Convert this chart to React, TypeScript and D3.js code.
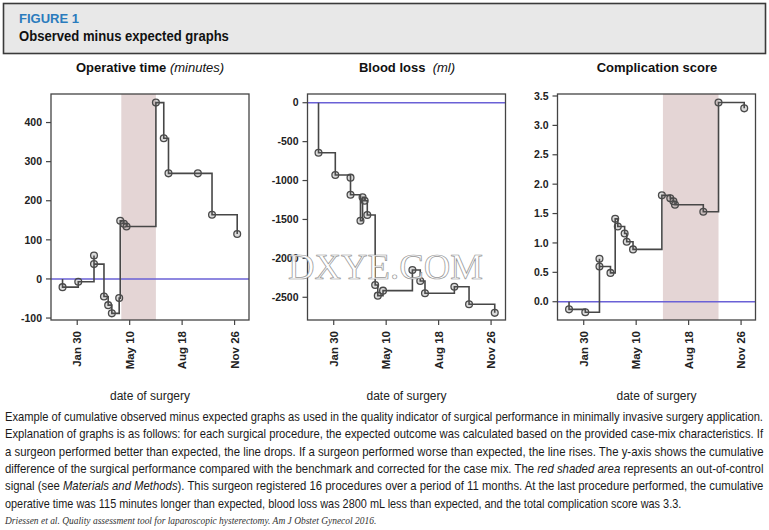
import React, { useLayoutEffect, useRef, useState } from "react";
import * as d3 from "d3";

// observed minus expected, one value per procedure
const opDates = ["2015-01-02", "2015-02-01", "2015-03-03", "2015-03-03", "2015-03-22", "2015-03-30", "2015-04-06", "2015-04-20", "2015-04-22", "2015-04-29", "2015-05-04", "2015-06-29", "2015-07-14", "2015-07-23", "2015-09-17", "2015-10-14", "2015-12-01"];
const opValues = [-21, -7, 60, 38, -45, -67, -88, -49, 149, 141, 134, 451, 360, 270, 270, 164, 115];

const bloodDates = ["2015-01-01", "2015-02-02", "2015-03-03", "2015-03-03", "2015-03-22", "2015-03-26", "2015-03-30", "2015-04-04", "2015-04-19", "2015-04-24", "2015-05-04", "2015-06-29", "2015-07-14", "2015-07-23", "2015-09-17", "2015-10-15", "2015-12-03"];
const bloodValues = [-642, -929, -963, -1182, -1516, -1216, -1259, -1443, -2342, -2479, -2415, -2149, -2291, -2449, -2364, -2590, -2700];

const complDates = ["2015-01-02", "2015-02-02", "2015-03-01", "2015-03-01", "2015-03-22", "2015-03-31", "2015-04-05", "2015-04-18", "2015-04-22", "2015-05-04", "2015-06-28", "2015-07-14", "2015-07-20", "2015-07-23", "2015-09-15", "2015-10-14", "2015-12-02"];
const complValues = [-0.13, -0.18, 0.73, 0.6, 0.49, 1.41, 1.28, 1.16, 1.02, 0.89, 1.81, 1.76, 1.71, 1.65, 1.53, 3.39, 3.29];

// out-of-control periods
const opShade = ["2015-04-24", "2015-06-29"];
const complShade = ["2015-06-30", "2015-10-14"];

const dateTicks = ["2015-01-30", "2015-05-10", "2015-08-18", "2015-11-26"];
const dateTickLabels = ["Jan 30", "May 10", "Aug 18", "Nov 26"];
const opTicks = [-100, 0, 100, 200, 300, 400];
const bloodTicks = [0, -500, -1000, -1500, -2000, -2500];
const complTicks = [0, 0.5, 1, 1.5, 2, 2.5, 3, 3.5];

const captionLines: [string, boolean][][] = [
  [["Example of cumulative observed minus expected graphs as used in the quality indicator of surgical performance in minimally invasive surgery application.", false]],
  [["Explanation of graphs is as follows: for each surgical procedure, the expected outcome was calculated based on the provided case-mix characteristics. If", false]],
  [["a surgeon performed better than expected, the line drops. If a surgeon performed worse than expected, the line rises. The y-axis shows the cumulative", false]],
  [["difference of the surgical performance compared with the benchmark and corrected for the case mix. The ", false], ["red shaded area", true], [" represents an out-of-control", false]],
  [["signal (see ", false], ["Materials and Methods", true], ["). This surgeon registered 16 procedures over a period of 11 months. At the last procedure performed, the cumulative", false]],
  [["operative time was 115 minutes longer than expected, blood loss was 2800 mL less than expected, and the total complication score was 3.3.", false]],
];

const parse = d3.utcParse("%Y-%m-%d");
const TOP = 94;
const BOTTOM = 320;
const W = 198;
const SANS = "'Liberation Sans', Arial, Helvetica, sans-serif";
const NARROW = "'Liberation Sans Narrow', 'Arial Narrow', 'Liberation Sans', Arial, sans-serif";

// text squeezed horizontally to a given width (the original uses a condensed face)
const FitText = ({ x, y, width, children, ...rest }: any) => {
  const ref = useRef<SVGTextElement>(null);
  const [k, setK] = useState(1);
  useLayoutEffect(() => {
    if (ref.current) {
      const w = ref.current.getComputedTextLength();
      if (w > 0) setK(width / w);
    }
  }, [width]);
  return (
    <text ref={ref} transform={`translate(${x},${y}) scale(${k},1)`} {...rest}>
      {children}
    </text>
  );
};

type PanelProps = {
  left: number;
  dates: string[];
  values: number[];
  yDomain: [number, number];
  yTicks: number[];
  yFormat: (v: number) => string;
  shade?: string[];
};

const Panel = ({ left, dates, values, yDomain, yTicks, yFormat, shade }: PanelProps) => {
  const x = d3
    .scaleUtc()
    .domain([new Date(Date.UTC(2014, 11, 11)), new Date(Date.UTC(2015, 11, 23, 12))])
    .range([left, left + W]);
  const y = d3.scaleLinear().domain(yDomain).range([BOTTOM, TOP]);

  const pts: [Date, number][] = dates.map((d, i) => [parse(d)!, values[i]]);
  const path = d3
    .line<[Date, number]>()
    .x((d) => x(d[0]))
    .y((d) => y(d[1]))
    .curve(d3.curveStepAfter)([[pts[0][0], 0], ...pts]);

  return (
    <g>
      {shade && (
        <rect
          x={x(parse(shade[0])!)}
          y={TOP}
          width={x(parse(shade[1])!) - x(parse(shade[0])!)}
          height={BOTTOM - TOP}
          fill="#e4d5d5"
        />
      )}
      <line x1={left} x2={left + W} y1={y(0)} y2={y(0)} stroke="#6a61d6" strokeWidth={1.5} />
      <path d={path ?? ""} fill="none" stroke="#474747" strokeWidth={1.6} />
      {pts.map((p, i) => (
        <circle key={i} cx={x(p[0])} cy={y(p[1])} r={3.4} fill="rgba(90,90,90,0.22)" stroke="#4a4a4a" strokeWidth={1.3} />
      ))}
      <rect x={left} y={TOP} width={W} height={BOTTOM - TOP} fill="none" stroke="#444" strokeWidth={1.3} />
      {yTicks.map((t) => (
        <g key={t}>
          <line x1={left - 5} x2={left} y1={y(t)} y2={y(t)} stroke="#444" strokeWidth={1.2} />
          <text
            x={left - 9}
            y={y(t)}
            dy="0.35em"
            textAnchor="end"
            fontFamily={SANS}
            fontSize={10.5}
            fontWeight="bold"
            fill="#222"
          >
            {yFormat(t)}
          </text>
        </g>
      ))}
      {dateTicks.map((t, i) => {
        const tx = x(parse(t)!);
        return (
          <g key={t}>
            <line x1={tx} x2={tx} y1={BOTTOM} y2={BOTTOM + 5} stroke="#444" strokeWidth={1.2} />
            <text
              transform={`translate(${tx},${BOTTOM + 11}) rotate(-90)`}
              dy="0.35em"
              textAnchor="end"
              fontFamily={SANS}
              fontSize={11.5}
              fontWeight="bold"
              fill="#222"
            >
              {dateTickLabels[i]}
            </text>
          </g>
        );
      })}
      <text x={left + W / 2} y={400} textAnchor="middle" fontFamily={SANS} fontSize={12} fill="#222">
        date of surgery
      </text>
    </g>
  );
};

const App = () => {
  return (
    <svg
      width={769}
      height={530}
      style={{ position: "fixed", left: 0, top: 0, background: "#fff" }}
    >
      <rect x={3.5} y={3.5} width={762} height={50} fill="#e8e8e8" stroke="#3a3a3a" strokeWidth={1.6} />
      <FitText x={19} y={23} width={60} fontFamily={NARROW} fontWeight="bold" fontSize={13.5} fill="#2a7bbd">
        FIGURE 1
      </FitText>
      <FitText x={19} y={41} width={210} fontFamily={NARROW} fontWeight="bold" fontSize={15} fill="#111">
        Observed minus expected graphs
      </FitText>

      <text x={150} y={72} textAnchor="middle" fontFamily={SANS} fontSize={13} fill="#111">
        <tspan fontWeight="bold">Operative time </tspan>
        <tspan fontStyle="italic">(minutes)</tspan>
      </text>
      <text x={407} y={72} textAnchor="middle" fontFamily={SANS} fontSize={13} fill="#111" xmlSpace="preserve">
        <tspan fontWeight="bold">Blood loss</tspan>
        <tspan fontStyle="italic">{"  (ml)"}</tspan>
      </text>
      <text x={657} y={72} textAnchor="middle" fontFamily={SANS} fontSize={13} fontWeight="bold" fill="#111">
        Complication score
      </text>

      <Panel left={51} dates={opDates} values={opValues} yDomain={[-105, 473]} yTicks={opTicks} yFormat={(v) => String(v)} shade={opShade} />
      <Panel left={307.5} dates={bloodDates} values={bloodValues} yDomain={[-2792, 112]} yTicks={bloodTicks} yFormat={(v) => String(v)} />
      <Panel left={557.5} dates={complDates} values={complValues} yDomain={[-0.311, 3.534]} yTicks={complTicks} yFormat={d3.format(".1f")} shade={complShade} />

      <FitText
        x={288}
        y={279}
        width={195}
        fontFamily="'Liberation Serif', 'DejaVu Serif', serif"
        fontSize={35}
        fill="#fff"
        stroke="#8c8c8c"
        strokeWidth={0.7}
        opacity={0.9}
      >
        DXYE.COM
      </FitText>

      {captionLines.map((segs, i) => (
        <FitText
          key={i}
          x={5}
          y={421 + i * 17.3}
          width={i === captionLines.length - 1 ? 677 : 759}
          fontFamily={NARROW}
          fontSize={13}
          fill="#1a1a1a"
          xmlSpace="preserve"
        >
          {segs.map(([s, it], j) => (
            <tspan key={j} fontStyle={it ? "italic" : "normal"}>
              {s}
            </tspan>
          ))}
        </FitText>
      ))}
      <FitText
        x={5}
        y={524}
        width={372}
        fontFamily="'Liberation Serif', 'Times New Roman', serif"
        fontStyle="italic"
        fontSize={10}
        fill="#333"
      >
        Driessen et al. Quality assessment tool for laparoscopic hysterectomy. Am J Obstet Gynecol 2016.
      </FitText>
    </svg>
  );
};

export default App;
